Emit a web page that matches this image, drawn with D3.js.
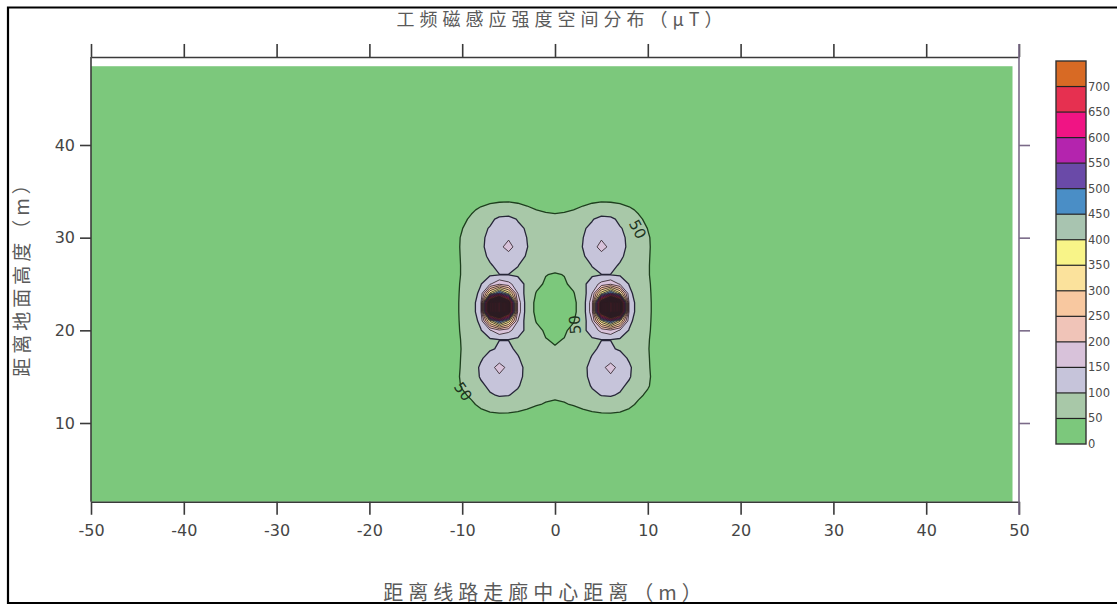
<!DOCTYPE html>
<html><head><meta charset="utf-8">
<script src="https://cdn.jsdelivr.net/npm/d3@7"></script>
<style>body{margin:0;background:#fff}svg{display:block}</style>
</head><body>
<svg id="c" width="1117" height="606"></svg>
<script>
// ---- data ----
const xTicks = [-50,-40,-30,-20,-10,0,10,20,30,40,50];
const yTicks = [10,20,30,40];
const legendLevels = [0,50,100,150,200,250,300,350,400,450,500,550,600,650,700];
const bandColors = ['#7cc87c','#a8c8a8','#c6c4da','#d8c2da','#f0c4b8','#f8c8a0','#fbe29c','#f8f488','#a8c4b0','#4a8ec6','#6a4aa8','#b424ae','#f01484','#e63050','#d86a24'];
const darkBandColor = '#3a1c24';
const contourThresholds = [50,100,150,200,250,300,350,400,450,500,550,600,650,700,750,800,850,900,950,1000,1050,1100,1150,1200,1250];
const contourLabels = [
  {x:-9.9, y:13.4, rot:55, text:'50'},
  {x:8.9, y:30.9, rot:62, text:'50'},
  {x:2.15, y:20.6, rot:-95, text:'50'}
];
// field, 1 m grid, x = -11..11, rows y = 35 (top) .. 10 (bottom)
const gridXStart = -11, gridYTop = 35;
const fieldRows = [
 [12,16,20,24,27,29,29,28,26,25,24,24,24,25,26,28,29,29,27,24,20,16,12],
 [15,22,30,38,44,47,48,46,43,40,38,38,38,40,43,46,48,47,44,38,30,22,15],
 [22,32,45,56,62,64,63,60,55,50,47,46,47,50,55,60,63,64,62,56,45,32,22],
 [28,42,56,72,88,112,118,96,82,68,58,56,58,68,82,96,118,112,88,72,56,42,28],
 [34,49,68,86,104,125,132,112,94,78,66,62,66,78,94,112,132,125,104,86,68,49,34],
 [36,54,73,92,110,132,142,120,99,82,70,66,70,82,99,120,142,132,110,92,73,54,36],
 [36,55,74,93,112,135,172,125,101,83,71,67,71,83,101,125,172,135,112,93,74,55,36],
 [36,54,72,90,106,122,128,115,96,80,69,65,69,80,96,115,128,122,106,90,72,54,36],
 [36,53,70,86,97,108,110,101,88,76,66,62,66,76,88,101,110,108,97,86,70,53,36],
 [36,53,69,84,94,99.5,99.5,94,84,68,51,47,51,68,84,94,99.5,99.5,94,84,69,53,36],
 [37,55,73,97,145,190,165,122,88,58,46,44,46,58,88,122,165,190,145,97,73,55,37],
 [38,56,76,112,360,520,380,150,72,48,40,37,40,48,72,150,380,520,360,112,76,56,38],
 [38,57,78,130,1000,1300,900,180,70,42,36,33,36,42,70,180,900,1300,1000,130,78,57,38],
 [38,57,78,130,1000,1300,900,180,70,42,36,33,36,42,70,180,900,1300,1000,130,78,57,38],
 [38,56,76,112,360,520,380,150,72,48,40,37,40,48,72,150,380,520,360,112,76,56,38],
 [37,55,73,97,145,190,165,122,88,58,46,44,46,58,88,122,165,190,145,97,73,55,37],
 [36,53,69,84,94,99.5,99.5,94,84,68,51,47,51,68,84,94,99.5,99.5,94,84,69,53,36],
 [36,52,68,84,96,104,104,96,84,70,58,52,58,70,84,96,104,104,96,84,68,52,36],
 [36,53,70,95,115,125,122,102,90,72,60,56,60,72,90,102,122,125,115,95,70,53,36],
 [36,54,80,106,130,172,135,112,90,77,64,60,64,77,90,112,135,172,130,106,80,54,36],
 [38,55,78,104,125,140,130,110,90,74,62,58,62,74,90,110,130,140,125,104,78,55,38],
 [36,53,72,92,108,118,115,103,86,70,60,56,60,70,86,103,115,118,108,92,72,53,36],
 [30,44,56,74,96,103,101,92,78,64,56,54,56,64,78,92,101,103,96,74,56,44,30],
 [22,32,44,58,70,80,78,70,60,52,48,46,48,52,60,70,78,80,70,58,44,32,22],
 [15,22,30,40,46,48,47,44,40,37,35,34,35,37,40,44,47,48,46,40,30,22,15],
 [10,14,18,22,25,26,26,25,23,21,20,20,20,21,23,25,26,26,25,22,18,14,10]
];
const titleText = '工频磁感应强度空间分布（μT）';
const xLabelText = '距离线路走廊中心距离（m）';
const yLabelText = '距离地面高度（m）';

// ---- chart ----
const svg = d3.select('#c');
const x = d3.scaleLinear().domain([-50,50]).range([91,1019]);
const y = d3.scaleLinear().domain([0,50]).range([515.67,52.33]);
const frameY = [1.5,49.5];
const fillX = [-50,49.3], fillY = [1.5,48.5];

// outer border (left, top, bottom visible)
svg.append('path').attr('d','M1118,7.5H8V603H1118')
  .attr('fill','none').attr('stroke','#000').attr('stroke-width',2.2);

// background band (below 50)
svg.append('rect').attr('x',x(fillX[0])).attr('y',y(fillY[1]))
  .attr('width',x(fillX[1])-x(fillX[0])).attr('height',y(fillY[0])-y(fillY[1]))
  .attr('fill',bandColors[0]);

// contours
const n = fieldRows[0].length + 2, m = fieldRows.length + 2;
const values = new Array(n*m).fill(0);
fieldRows.forEach((row,r)=>row.forEach((v,c)=>{ values[(r+1)*n + (c+1)] = v; }));
const gx0 = gridXStart - 1, gy0 = gridYTop + 1;
const proj = d3.geoTransform({point:function(cx,cy){
  this.stream.point(x(gx0 + (cx-0.5)), y(gy0 - (cy-0.5)));
}});
const path = d3.geoPath(proj);
const contours = d3.contours().size([n,m]).thresholds(contourThresholds)(values);
const g = svg.append('g');
function bandColor(t){ const k = Math.round(t/50); return k < bandColors.length ? bandColors[k] : darkBandColor; }
g.selectAll('path.f').data(contours).join('path').attr('class','f')
  .attr('d',path).attr('fill',d=>bandColor(d.value)).attr('stroke','none');
g.selectAll('path.l').data(contours).join('path').attr('class','l')
  .attr('d',path).attr('fill','none')
  .attr('stroke',d=>d.value===50?'#1e3e1e':(d.value===100?'#262638':'#2a1c22'))
  .attr('stroke-width',d=>d.value<=100?1.3:0.8)
  .attr('stroke-linejoin','round');

// contour labels
svg.selectAll('text.cl').data(contourLabels).join('text').attr('class','cl')
  .attr('transform',d=>`translate(${x(d.x)},${y(d.y)}) rotate(${d.rot})`)
  .attr('text-anchor','middle').attr('dy','0.35em')
  .attr('font-family','DejaVu Sans').attr('font-size',15).attr('fill','#1e341e')
  .text(d=>d.text);

// axes
const axCol = '#3a3a3a';
const fmt = d => String(d);
function styleAxis(sel, col, showText){
  sel.selectAll('path.domain').attr('stroke',col).attr('stroke-width',1.6);
  sel.selectAll('.tick line').attr('stroke',col).attr('stroke-width',1.6);
  sel.selectAll('.tick text').attr('fill','#454545').attr('font-family','DejaVu Sans').attr('font-size',16);
  if(!showText) sel.selectAll('.tick text').remove();
}
const axBottom = svg.append('g').attr('transform',`translate(0,${y(frameY[0])})`)
  .call(d3.axisBottom(x).tickValues(xTicks).tickFormat(fmt).tickSize(13).tickSizeOuter(0).tickPadding(10));
styleAxis(axBottom, axCol, true);
const axTop = svg.append('g').attr('transform',`translate(0,${y(frameY[1])})`)
  .call(d3.axisTop(x).tickValues(xTicks).tickSize(13).tickSizeOuter(0));
styleAxis(axTop, axCol, false);
const axLeft = svg.append('g').attr('transform',`translate(${x(-50)},0)`)
  .call(d3.axisLeft(y).tickValues(yTicks).tickFormat(fmt).tickSize(11).tickSizeOuter(0).tickPadding(5));
axLeft.select('path.domain').attr('d',`M0,${y(frameY[0])}V${y(frameY[1])}`);
styleAxis(axLeft, axCol, true);
const axRight = svg.append('g').attr('transform',`translate(${x(50)},0)`)
  .call(d3.axisRight(y).tickValues(yTicks).tickSize(11).tickSizeOuter(0));
axRight.select('path.domain').attr('d',`M0,${y(frameY[0])+13}V${y(frameY[1])-13}`);
styleAxis(axRight, '#7a6a88', false);

// titles
svg.append('text').attr('x',562).attr('y',26).attr('text-anchor','middle')
  .attr('font-family','Noto Sans CJK SC').attr('font-size',18).attr('letter-spacing',5)
  .attr('fill','#5a5a5a').text(titleText);
svg.append('text').attr('x',545).attr('y',600).attr('text-anchor','middle')
  .attr('font-family','Noto Sans CJK SC').attr('font-size',20).attr('letter-spacing',5)
  .attr('fill','#5a5a5a').text(xLabelText);
svg.append('text').attr('transform','translate(29,274) rotate(-90)').attr('text-anchor','middle')
  .attr('font-family','Noto Sans CJK SC').attr('font-size',19).attr('letter-spacing',4)
  .attr('fill','#5a5a5a').text(yLabelText);

// legend
const ly = d3.scaleLinear().domain([0,750]).range([444,61]);
const lg = svg.append('g');
const bands = legendLevels.map((v,i)=>({lo:v, hi:v+50, c:bandColors[i]}));
lg.selectAll('rect.b').data(bands).join('rect').attr('class','b')
  .attr('x',1056).attr('width',30).attr('y',d=>ly(d.hi)).attr('height',d=>ly(d.lo)-ly(d.hi))
  .attr('fill',d=>d.c);
lg.selectAll('line.s').data(legendLevels.slice(1)).join('line').attr('class','s')
  .attr('x1',1056).attr('x2',1086).attr('y1',d=>ly(d)).attr('y2',d=>ly(d))
  .attr('stroke','#222').attr('stroke-width',1.2);
lg.append('rect').attr('x',1056).attr('y',ly(750)).attr('width',30).attr('height',ly(0)-ly(750))
  .attr('fill','none').attr('stroke','#333').attr('stroke-width',1.4);
lg.selectAll('text').data(legendLevels).join('text')
  .attr('x',1088).attr('y',d=>ly(d)+4).attr('font-family','DejaVu Sans').attr('font-size',11.5)
  .attr('fill','#4a4a4a').text(d=>d);
</script>
</body></html>
